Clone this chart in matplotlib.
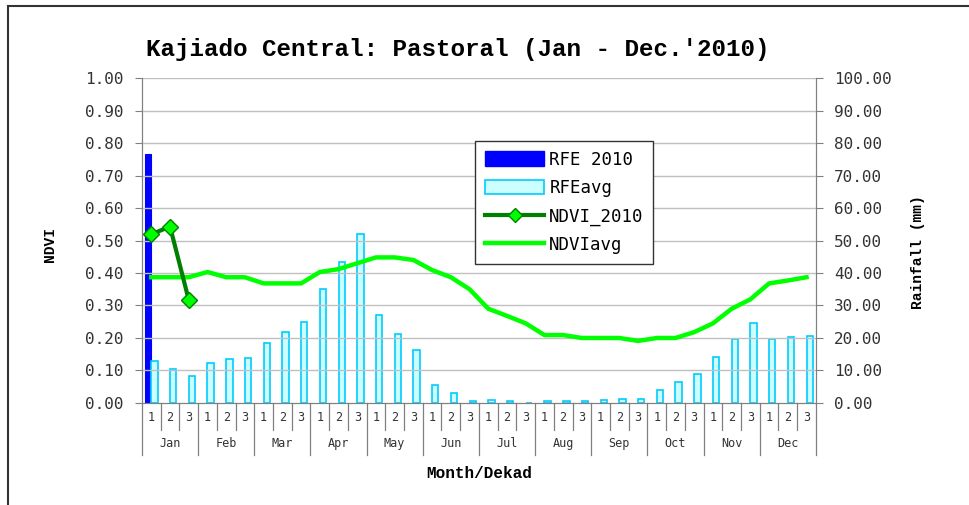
import numpy as np
import matplotlib
matplotlib.use("Agg")
import matplotlib.pyplot as plt
from matplotlib.lines import Line2D
from matplotlib.patches import Patch
import matplotlib.transforms as mtransforms

# data (36 dekads, Jan 1 .. Dec 3)
months = ['Jan', 'Feb', 'Mar', 'Apr', 'May', 'Jun',
          'Jul', 'Aug', 'Sep', 'Oct', 'Nov', 'Dec']
dekads = ['1', '2', '3']

rfe_2010 = [76.5]  # only first dekad available
rfe_avg = [12.9, 10.6, 8.3, 12.4, 13.4, 13.9, 18.6, 21.8, 25.0,
           35.0, 43.4, 51.9, 27.0, 21.3, 16.2, 5.4, 3.2, 0.7,
           0.8, 0.5, 0.0, 0.5, 0.5, 0.5, 0.8, 1.3, 1.3,
           4.1, 6.6, 8.9, 14.1, 19.7, 24.7, 19.7, 20.2, 20.6]
ndvi_2010 = [0.519, 0.543, 0.317]
ndvi_avg = [0.387, 0.387, 0.387, 0.403, 0.387, 0.387, 0.368, 0.368, 0.368,
            0.403, 0.412, 0.430, 0.448, 0.448, 0.440, 0.409, 0.387, 0.350,
            0.290, 0.268, 0.245, 0.209, 0.209, 0.200, 0.200, 0.200, 0.191,
            0.200, 0.200, 0.218, 0.245, 0.290, 0.319, 0.368, 0.377, 0.387]

mono = 'DejaVu Sans Mono'
bold_mono = 'Liberation Mono'

fig = plt.figure(figsize=(9.69, 5.05), dpi=100)
ax = fig.add_axes([0.1465, 0.202, 0.6955, 0.6435])
ax2 = ax.twinx()

n = len(rfe_avg)
x = np.arange(n) + 0.5
bw = 0.34

# bars on rainfall axis
ax2.bar(x[:len(rfe_2010)] - bw / 2, rfe_2010, width=bw, color='#0000FF',
        edgecolor='#0000FF', linewidth=0.8, zorder=2)
ax2.bar(x + bw / 2, rfe_avg, width=bw, color='#CCFFFF',
        edgecolor='#00CCFF', linewidth=1.2, zorder=2)

# ndvi lines drawn on top
ax2.set_zorder(1)
ax.set_zorder(2)
ax.patch.set_visible(False)
ax.plot(x, ndvi_avg, color='#00FF00', linewidth=3.2, zorder=3,
        solid_joinstyle='round')
ax.plot(x[:len(ndvi_2010)], ndvi_2010, color='#008000', linewidth=3,
        marker='D', markersize=8, markerfacecolor='#00FF00',
        markeredgecolor='#008000', markeredgewidth=1, zorder=4)

ax.set_xlim(0, n)
ax.set_ylim(0, 1.0)
ax2.set_ylim(0, 100)
ax.set_yticks(np.arange(0, 1.01, 0.1))
ax.set_yticklabels(['%.2f' % v for v in np.arange(0, 1.01, 0.1)])
ax2.set_yticks(np.arange(0, 101, 10))
ax2.set_yticklabels(['%.2f' % v for v in np.arange(0, 101, 10)])

for a in (ax, ax2):
    a.tick_params(axis='y', direction='out', length=5, color='#808080',
                  labelsize=11.5, pad=8)
    for lab in a.get_yticklabels():
        lab.set_family(mono)
        lab.set_color('#333333')
    for s in a.spines.values():
        s.set_color('#808080')
    a.spines['top'].set_visible(False)

ax.set_xticks([])
ax2.set_xticks([])

# horizontal gridlines
for v in np.arange(0.1, 1.01, 0.1):
    ax.axhline(v, color='#C0C0C0', linewidth=1, zorder=0)

# two level x axis (dekad / month)
trans = mtransforms.blended_transform_factory(ax.transData, ax.transAxes)
for i in range(n + 1):
    low = -0.16 if i % 3 == 0 else -0.083
    ax.add_line(Line2D([i, i], [0, low], transform=trans, color='#808080',
                       linewidth=0.9, clip_on=False))
for i in range(n):
    ax.text(i + 0.5, -0.046, dekads[i % 3], transform=trans, ha='center',
            va='center', fontsize=8.5, family=mono, color='#333333')
for m, name in enumerate(months):
    ax.text(3 * m + 1.5, -0.126, name, transform=trans, ha='center',
            va='center', fontsize=8.5, family=mono, color='#333333')

ax.text(0.5, -0.218, 'Month/Dekad', transform=ax.transAxes, ha='center',
        va='center', fontsize=11.5, family=bold_mono, fontweight='bold')
fig.text(0.052, 0.515, 'NDVI', rotation=90, ha='center', va='center',
         fontsize=10.5, family=bold_mono, fontweight='bold')
fig.text(0.947, 0.5, 'Rainfall (mm)', rotation=90, ha='center',
         va='center', fontsize=10.5, family=bold_mono, fontweight='bold')
fig.text(0.472, 0.902, "Kajiado Central: Pastoral (Jan - Dec.'2010)",
         ha='center', va='center', fontsize=17.5, family=bold_mono,
         fontweight='bold')

# legend
handles = [Patch(facecolor='#0000FF', edgecolor='#0000FF'),
           Patch(facecolor='#CCFFFF', edgecolor='#00CCFF', linewidth=1.2),
           Line2D([], [], color='#008000', linewidth=3, marker='D',
                  markersize=7, markerfacecolor='#00FF00',
                  markeredgecolor='#008000'),
           Line2D([], [], color='#00FF00', linewidth=3.2)]
leg = ax.legend(handles, ['RFE 2010', 'RFEavg', 'NDVI_2010', 'NDVIavg'],
                loc='upper left', bbox_to_anchor=(0.482, 0.833),
                prop={'family': mono, 'size': 12.5}, frameon=True,
                fancybox=False, edgecolor='#333333', framealpha=1,
                handlelength=3.4, handleheight=0.9, labelspacing=0.6,
                borderpad=0.55, handletextpad=0.3)
leg.get_frame().set_linewidth(1)

# outer frame (only top and left fall inside the picture)
fig.add_artist(Line2D([0.008, 0.008], [0, 0.988], transform=fig.transFigure,
                      color='#333333', linewidth=1.5))
fig.add_artist(Line2D([0.008, 1.0], [0.988, 0.988], transform=fig.transFigure,
                      color='#333333', linewidth=1.5))

fig.savefig('out.png', dpi=100)
